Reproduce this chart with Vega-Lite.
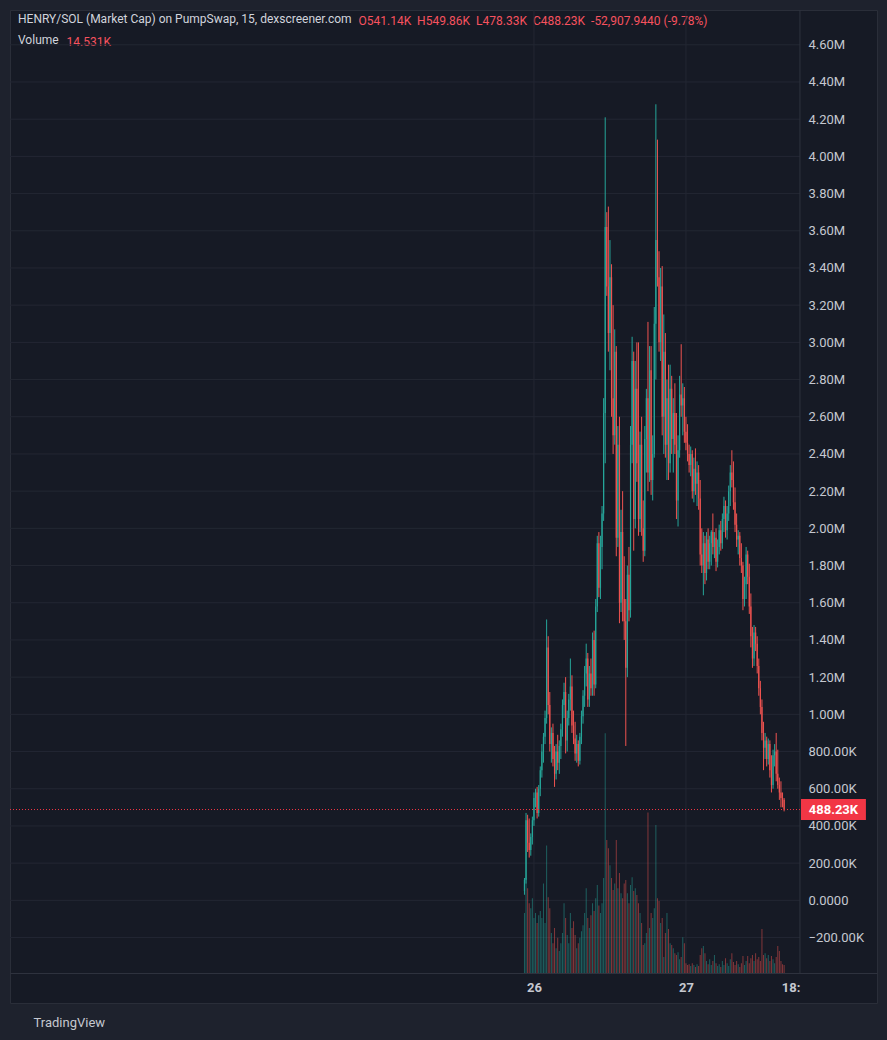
{
  "$schema": "https://vega.github.io/schema/vega-lite/v6.json",
  "description": "HENRY/SOL market cap, 15 minute candles with volume, dexscreener style",
  "width": 867,
  "height": 993,
  "autosize": "none",
  "padding": {"left": 10, "top": 10, "right": 10, "bottom": 37},
  "background": "#1e222d",
  "config": {
    "font": "Roboto",
    "view": {"fill": "#161a25", "stroke": "#2a2e39", "strokeWidth": 1},
    "scale": {"continuousPadding": 0},
    "axis": {"grid": false, "ticks": false, "domain": false, "labelFont": "Roboto", "titleFont": "Roboto"}
  },
  "title": {
    "text": "HENRY/SOL (Market Cap) on PumpSwap, 15, dexscreener.com",
    "subtitle": "Volume",
    "orient": "top",
    "anchor": "start",
    "frame": "group",
    "offset": -37,
    "dx": 8,
    "font": "Roboto",
    "fontSize": 12,
    "fontWeight": "normal",
    "color": "#d1d4dc",
    "subtitleFont": "Roboto",
    "subtitleFontSize": 12,
    "subtitleColor": "#d1d4dc",
    "subtitlePadding": 9
  },
  "datasets": {
    "bars": [
      {"t":"2025-06-25T22:30","o":50000,"h":120000,"l":30000,"c":110000,"v":109000},
      {"t":"2025-06-25T22:45","o":110000,"h":470000,"l":90000,"c":430000,"v":173000},
      {"t":"2025-06-25T23:00","o":430000,"h":460000,"l":260000,"c":310000,"v":154000},
      {"t":"2025-06-25T23:15","o":310000,"h":440000,"l":230000,"c":270000,"v":127000},
      {"t":"2025-06-25T23:30","o":270000,"h":360000,"l":240000,"c":340000,"v":118000},
      {"t":"2025-06-25T23:45","o":340000,"h":450000,"l":300000,"c":430000,"v":136000},
      {"t":"2025-06-26T00:00","o":430000,"h":580000,"l":400000,"c":550000,"v":100000},
      {"t":"2025-06-26T00:15","o":550000,"h":600000,"l":500000,"c":580000,"v":109000},
      {"t":"2025-06-26T00:30","o":580000,"h":610000,"l":440000,"c":470000,"v":91000},
      {"t":"2025-06-26T00:45","o":470000,"h":620000,"l":450000,"c":600000,"v":105000},
      {"t":"2025-06-26T01:00","o":600000,"h":720000,"l":560000,"c":700000,"v":113000},
      {"t":"2025-06-26T01:15","o":700000,"h":840000,"l":660000,"c":800000,"v":100000},
      {"t":"2025-06-26T01:30","o":800000,"h":900000,"l":740000,"c":880000,"v":163000},
      {"t":"2025-06-26T01:45","o":880000,"h":1020000,"l":840000,"c":980000,"v":91000},
      {"t":"2025-06-26T02:00","o":980000,"h":1510000,"l":950000,"c":1360000,"v":232000},
      {"t":"2025-06-26T02:15","o":1360000,"h":1420000,"l":1000000,"c":1050000,"v":138000},
      {"t":"2025-06-26T02:30","o":1050000,"h":1120000,"l":800000,"c":840000,"v":118000},
      {"t":"2025-06-26T02:45","o":840000,"h":930000,"l":740000,"c":900000,"v":73000},
      {"t":"2025-06-26T03:00","o":900000,"h":950000,"l":720000,"c":760000,"v":54000},
      {"t":"2025-06-26T03:15","o":760000,"h":830000,"l":610000,"c":680000,"v":82000},
      {"t":"2025-06-26T03:30","o":680000,"h":840000,"l":650000,"c":800000,"v":45000},
      {"t":"2025-06-26T03:45","o":800000,"h":890000,"l":700000,"c":740000,"v":64000},
      {"t":"2025-06-26T04:00","o":740000,"h":860000,"l":680000,"c":830000,"v":40000},
      {"t":"2025-06-26T04:15","o":830000,"h":950000,"l":760000,"c":920000,"v":54000},
      {"t":"2025-06-26T04:30","o":920000,"h":1080000,"l":880000,"c":1050000,"v":73000},
      {"t":"2025-06-26T04:45","o":1050000,"h":1170000,"l":980000,"c":1120000,"v":127000},
      {"t":"2025-06-26T05:00","o":1120000,"h":1200000,"l":790000,"c":860000,"v":100000},
      {"t":"2025-06-26T05:15","o":860000,"h":1020000,"l":800000,"c":980000,"v":69000},
      {"t":"2025-06-26T05:30","o":980000,"h":1110000,"l":940000,"c":1080000,"v":54000},
      {"t":"2025-06-26T05:45","o":1080000,"h":1300000,"l":1020000,"c":1150000,"v":109000},
      {"t":"2025-06-26T06:00","o":1150000,"h":1210000,"l":900000,"c":940000,"v":82000},
      {"t":"2025-06-26T06:15","o":940000,"h":1020000,"l":840000,"c":870000,"v":94000},
      {"t":"2025-06-26T06:30","o":870000,"h":960000,"l":750000,"c":790000,"v":69000},
      {"t":"2025-06-26T06:45","o":790000,"h":890000,"l":740000,"c":840000,"v":45000},
      {"t":"2025-06-26T07:00","o":840000,"h":860000,"l":720000,"c":750000,"v":54000},
      {"t":"2025-06-26T07:15","o":750000,"h":900000,"l":730000,"c":880000,"v":64000},
      {"t":"2025-06-26T07:30","o":880000,"h":1020000,"l":840000,"c":990000,"v":76000},
      {"t":"2025-06-26T07:45","o":990000,"h":1130000,"l":950000,"c":1100000,"v":87000},
      {"t":"2025-06-26T08:00","o":1100000,"h":1260000,"l":1040000,"c":1220000,"v":109000},
      {"t":"2025-06-26T08:15","o":1220000,"h":1380000,"l":1150000,"c":1300000,"v":154000},
      {"t":"2025-06-26T08:30","o":1300000,"h":1330000,"l":1040000,"c":1080000,"v":100000},
      {"t":"2025-06-26T08:45","o":1080000,"h":1260000,"l":1040000,"c":1220000,"v":82000},
      {"t":"2025-06-26T09:00","o":1220000,"h":1300000,"l":1100000,"c":1140000,"v":105000},
      {"t":"2025-06-26T09:15","o":1140000,"h":1440000,"l":1100000,"c":1400000,"v":127000},
      {"t":"2025-06-26T09:30","o":1400000,"h":1450000,"l":1100000,"c":1160000,"v":113000},
      {"t":"2025-06-26T09:45","o":1160000,"h":1620000,"l":1140000,"c":1580000,"v":136000},
      {"t":"2025-06-26T10:00","o":1580000,"h":1960000,"l":1550000,"c":1920000,"v":160000},
      {"t":"2025-06-26T10:15","o":1920000,"h":1980000,"l":1630000,"c":1680000,"v":123000},
      {"t":"2025-06-26T10:30","o":1680000,"h":1960000,"l":1620000,"c":1900000,"v":109000},
      {"t":"2025-06-26T10:45","o":1900000,"h":2120000,"l":1780000,"c":2080000,"v":127000},
      {"t":"2025-06-26T11:00","o":2080000,"h":2700000,"l":2040000,"c":2620000,"v":173000},
      {"t":"2025-06-26T11:15","o":2620000,"h":4210000,"l":2350000,"c":3620000,"v":436000},
      {"t":"2025-06-26T11:30","o":3620000,"h":3700000,"l":3250000,"c":3300000,"v":242000},
      {"t":"2025-06-26T11:45","o":3300000,"h":3730000,"l":2950000,"c":3050000,"v":227000},
      {"t":"2025-06-26T12:00","o":3050000,"h":3550000,"l":2850000,"c":3350000,"v":196000},
      {"t":"2025-06-26T12:15","o":3350000,"h":3420000,"l":2600000,"c":2700000,"v":173000},
      {"t":"2025-06-26T12:30","o":2700000,"h":3200000,"l":2400000,"c":2500000,"v":151000},
      {"t":"2025-06-26T12:45","o":2500000,"h":3070000,"l":2450000,"c":2950000,"v":163000},
      {"t":"2025-06-26T13:00","o":2950000,"h":2980000,"l":1850000,"c":1950000,"v":242000},
      {"t":"2025-06-26T13:15","o":1950000,"h":2550000,"l":1900000,"c":2450000,"v":154000},
      {"t":"2025-06-26T13:30","o":2450000,"h":2600000,"l":1490000,"c":1600000,"v":182000},
      {"t":"2025-06-26T13:45","o":1600000,"h":2100000,"l":1550000,"c":1980000,"v":145000},
      {"t":"2025-06-26T14:00","o":1980000,"h":2200000,"l":1500000,"c":1620000,"v":136000},
      {"t":"2025-06-26T14:15","o":1620000,"h":1850000,"l":1400000,"c":1500000,"v":163000},
      {"t":"2025-06-26T14:30","o":1500000,"h":1620000,"l":830000,"c":1250000,"v":169000},
      {"t":"2025-06-26T14:45","o":1250000,"h":1800000,"l":1200000,"c":1750000,"v":145000},
      {"t":"2025-06-26T15:00","o":1750000,"h":1900000,"l":1500000,"c":1560000,"v":127000},
      {"t":"2025-06-26T15:15","o":1560000,"h":2550000,"l":1520000,"c":2450000,"v":160000},
      {"t":"2025-06-26T15:30","o":2450000,"h":3030000,"l":2350000,"c":2900000,"v":174000},
      {"t":"2025-06-26T15:45","o":2900000,"h":2950000,"l":1880000,"c":2050000,"v":149000},
      {"t":"2025-06-26T16:00","o":2050000,"h":2900000,"l":2000000,"c":2750000,"v":154000},
      {"t":"2025-06-26T16:15","o":2750000,"h":3000000,"l":2250000,"c":2350000,"v":142000},
      {"t":"2025-06-26T16:30","o":2350000,"h":3000000,"l":1960000,"c":2050000,"v":127000},
      {"t":"2025-06-26T16:45","o":2050000,"h":2520000,"l":1980000,"c":2450000,"v":109000},
      {"t":"2025-06-26T17:00","o":2450000,"h":2600000,"l":1960000,"c":2000000,"v":91000},
      {"t":"2025-06-26T17:15","o":2000000,"h":2150000,"l":1820000,"c":1880000,"v":51000},
      {"t":"2025-06-26T17:30","o":1880000,"h":2550000,"l":1850000,"c":2480000,"v":54000},
      {"t":"2025-06-26T17:45","o":2480000,"h":2750000,"l":2300000,"c":2700000,"v":73000},
      {"t":"2025-06-26T18:00","o":2700000,"h":3110000,"l":2200000,"c":2300000,"v":292000},
      {"t":"2025-06-26T18:15","o":2300000,"h":2980000,"l":2250000,"c":2850000,"v":82000},
      {"t":"2025-06-26T18:30","o":2850000,"h":2980000,"l":2180000,"c":2260000,"v":109000},
      {"t":"2025-06-26T18:45","o":2260000,"h":2500000,"l":2150000,"c":2400000,"v":100000},
      {"t":"2025-06-26T19:00","o":2400000,"h":3190000,"l":2380000,"c":3100000,"v":118000},
      {"t":"2025-06-26T19:15","o":3100000,"h":4280000,"l":2800000,"c":3550000,"v":269000},
      {"t":"2025-06-26T19:30","o":3550000,"h":4090000,"l":3300000,"c":3350000,"v":136000},
      {"t":"2025-06-26T19:45","o":3350000,"h":3490000,"l":2950000,"c":3000000,"v":131000},
      {"t":"2025-06-26T20:00","o":3000000,"h":3400000,"l":2900000,"c":3300000,"v":91000},
      {"t":"2025-06-26T20:15","o":3300000,"h":3410000,"l":2500000,"c":2600000,"v":100000},
      {"t":"2025-06-26T20:30","o":2600000,"h":3150000,"l":2400000,"c":2950000,"v":29000},
      {"t":"2025-06-26T20:45","o":2950000,"h":3050000,"l":2380000,"c":2450000,"v":73000},
      {"t":"2025-06-26T21:00","o":2450000,"h":2800000,"l":2260000,"c":2700000,"v":109000},
      {"t":"2025-06-26T21:15","o":2700000,"h":2880000,"l":2260000,"c":2350000,"v":80000},
      {"t":"2025-06-26T21:30","o":2350000,"h":2880000,"l":2300000,"c":2750000,"v":54000},
      {"t":"2025-06-26T21:45","o":2750000,"h":2820000,"l":2400000,"c":2480000,"v":51000},
      {"t":"2025-06-26T22:00","o":2480000,"h":2700000,"l":2300000,"c":2620000,"v":45000},
      {"t":"2025-06-26T22:15","o":2620000,"h":2780000,"l":2400000,"c":2450000,"v":36000},
      {"t":"2025-06-26T22:30","o":2450000,"h":2620000,"l":2050000,"c":2150000,"v":33000},
      {"t":"2025-06-26T22:45","o":2150000,"h":2500000,"l":2010000,"c":2420000,"v":38000},
      {"t":"2025-06-26T23:00","o":2420000,"h":2820000,"l":2380000,"c":2720000,"v":25000},
      {"t":"2025-06-26T23:15","o":2720000,"h":2990000,"l":2600000,"c":2660000,"v":29000},
      {"t":"2025-06-26T23:30","o":2660000,"h":2780000,"l":2500000,"c":2700000,"v":65000},
      {"t":"2025-06-26T23:45","o":2700000,"h":2760000,"l":2460000,"c":2520000,"v":54000},
      {"t":"2025-06-27T00:00","o":2520000,"h":2600000,"l":2420000,"c":2460000,"v":18000},
      {"t":"2025-06-27T00:15","o":2460000,"h":2560000,"l":2360000,"c":2400000,"v":14500},
      {"t":"2025-06-27T00:30","o":2400000,"h":2450000,"l":2300000,"c":2340000,"v":16000},
      {"t":"2025-06-27T00:45","o":2340000,"h":2440000,"l":2280000,"c":2400000,"v":13000},
      {"t":"2025-06-27T01:00","o":2400000,"h":2420000,"l":2160000,"c":2200000,"v":18000},
      {"t":"2025-06-27T01:15","o":2200000,"h":2380000,"l":2140000,"c":2320000,"v":14500},
      {"t":"2025-06-27T01:30","o":2320000,"h":2430000,"l":2180000,"c":2240000,"v":11000},
      {"t":"2025-06-27T01:45","o":2240000,"h":2360000,"l":2120000,"c":2300000,"v":16000},
      {"t":"2025-06-27T02:00","o":2300000,"h":2340000,"l":2100000,"c":2160000,"v":13000},
      {"t":"2025-06-27T02:15","o":2160000,"h":2260000,"l":1800000,"c":1860000,"v":33000},
      {"t":"2025-06-27T02:30","o":1860000,"h":2000000,"l":1760000,"c":1800000,"v":45000},
      {"t":"2025-06-27T02:45","o":1800000,"h":1980000,"l":1640000,"c":1920000,"v":49000},
      {"t":"2025-06-27T03:00","o":1920000,"h":1960000,"l":1700000,"c":1760000,"v":36000},
      {"t":"2025-06-27T03:15","o":1760000,"h":1980000,"l":1720000,"c":1940000,"v":22000},
      {"t":"2025-06-27T03:30","o":1940000,"h":2000000,"l":1780000,"c":1820000,"v":16000},
      {"t":"2025-06-27T03:45","o":1820000,"h":1960000,"l":1780000,"c":1920000,"v":25000},
      {"t":"2025-06-27T04:00","o":1920000,"h":1990000,"l":1800000,"c":1980000,"v":14500},
      {"t":"2025-06-27T04:15","o":1980000,"h":2080000,"l":1860000,"c":1900000,"v":22000},
      {"t":"2025-06-27T04:30","o":1900000,"h":1980000,"l":1840000,"c":1950000,"v":33000},
      {"t":"2025-06-27T04:45","o":1950000,"h":2000000,"l":1770000,"c":1820000,"v":18000},
      {"t":"2025-06-27T05:00","o":1820000,"h":1940000,"l":1790000,"c":1900000,"v":13000},
      {"t":"2025-06-27T05:15","o":1900000,"h":2020000,"l":1860000,"c":1990000,"v":16000},
      {"t":"2025-06-27T05:30","o":1990000,"h":2040000,"l":1880000,"c":1920000,"v":11000},
      {"t":"2025-06-27T05:45","o":1920000,"h":2080000,"l":1890000,"c":2050000,"v":22000},
      {"t":"2025-06-27T06:00","o":2050000,"h":2170000,"l":1980000,"c":2120000,"v":14500},
      {"t":"2025-06-27T06:15","o":2120000,"h":2150000,"l":1950000,"c":1990000,"v":27000},
      {"t":"2025-06-27T06:30","o":1990000,"h":2120000,"l":1940000,"c":2080000,"v":18000},
      {"t":"2025-06-27T06:45","o":2080000,"h":2230000,"l":2040000,"c":2200000,"v":13000},
      {"t":"2025-06-27T07:00","o":2200000,"h":2340000,"l":2120000,"c":2300000,"v":25000},
      {"t":"2025-06-27T07:15","o":2300000,"h":2420000,"l":2220000,"c":2260000,"v":36000},
      {"t":"2025-06-27T07:30","o":2260000,"h":2360000,"l":2100000,"c":2140000,"v":20000},
      {"t":"2025-06-27T07:45","o":2140000,"h":2220000,"l":1980000,"c":2020000,"v":14500},
      {"t":"2025-06-27T08:00","o":2020000,"h":2080000,"l":1900000,"c":1940000,"v":22000},
      {"t":"2025-06-27T08:15","o":1940000,"h":1990000,"l":1860000,"c":1960000,"v":16000},
      {"t":"2025-06-27T08:30","o":1960000,"h":1980000,"l":1800000,"c":1840000,"v":11000},
      {"t":"2025-06-27T08:45","o":1840000,"h":1920000,"l":1760000,"c":1800000,"v":18000},
      {"t":"2025-06-27T09:00","o":1800000,"h":1820000,"l":1560000,"c":1620000,"v":31000},
      {"t":"2025-06-27T09:15","o":1620000,"h":1740000,"l":1580000,"c":1700000,"v":14500},
      {"t":"2025-06-27T09:30","o":1700000,"h":1900000,"l":1620000,"c":1860000,"v":22000},
      {"t":"2025-06-27T09:45","o":1860000,"h":1880000,"l":1700000,"c":1740000,"v":31000},
      {"t":"2025-06-27T10:00","o":1740000,"h":1810000,"l":1540000,"c":1580000,"v":18000},
      {"t":"2025-06-27T10:15","o":1580000,"h":1650000,"l":1360000,"c":1420000,"v":27000},
      {"t":"2025-06-27T10:30","o":1420000,"h":1470000,"l":1250000,"c":1300000,"v":33000},
      {"t":"2025-06-27T10:45","o":1300000,"h":1480000,"l":1260000,"c":1440000,"v":22000},
      {"t":"2025-06-27T11:00","o":1440000,"h":1470000,"l":1340000,"c":1380000,"v":36000},
      {"t":"2025-06-27T11:15","o":1380000,"h":1420000,"l":1220000,"c":1260000,"v":25000},
      {"t":"2025-06-27T11:30","o":1260000,"h":1300000,"l":1100000,"c":1140000,"v":29000},
      {"t":"2025-06-27T11:45","o":1140000,"h":1180000,"l":1000000,"c":1040000,"v":22000},
      {"t":"2025-06-27T12:00","o":1040000,"h":1080000,"l":860000,"c":900000,"v":80000},
      {"t":"2025-06-27T12:15","o":900000,"h":960000,"l":700000,"c":820000,"v":33000},
      {"t":"2025-06-27T12:30","o":820000,"h":900000,"l":760000,"c":860000,"v":36000},
      {"t":"2025-06-27T12:45","o":860000,"h":880000,"l":720000,"c":760000,"v":27000},
      {"t":"2025-06-27T13:00","o":760000,"h":870000,"l":730000,"c":840000,"v":33000},
      {"t":"2025-06-27T13:15","o":840000,"h":860000,"l":660000,"c":700000,"v":22000},
      {"t":"2025-06-27T13:30","o":700000,"h":780000,"l":580000,"c":620000,"v":31000},
      {"t":"2025-06-27T13:45","o":620000,"h":810000,"l":600000,"c":780000,"v":25000},
      {"t":"2025-06-27T14:00","o":780000,"h":840000,"l":720000,"c":800000,"v":18000},
      {"t":"2025-06-27T14:15","o":800000,"h":900000,"l":640000,"c":680000,"v":29000},
      {"t":"2025-06-27T14:30","o":680000,"h":810000,"l":600000,"c":620000,"v":49000},
      {"t":"2025-06-27T14:45","o":620000,"h":660000,"l":540000,"c":580000,"v":40000},
      {"t":"2025-06-27T15:00","o":580000,"h":640000,"l":500000,"c":550000,"v":22000},
      {"t":"2025-06-27T15:15","o":550000,"h":580000,"l":500000,"c":541140,"v":16000},
      {"t":"2025-06-27T15:30","o":541140,"h":549860,"l":478330,"c":488230,"v":14531}
    ],
    "grid": [
      {"g": -200000}, {"g": 0}, {"g": 200000}, {"g": 400000}, {"g": 600000},
      {"g": 800000}, {"g": 1000000}, {"g": 1200000}, {"g": 1400000}, {"g": 1600000},
      {"g": 1800000}, {"g": 2000000}, {"g": 2200000}, {"g": 2400000}, {"g": 2600000},
      {"g": 2800000}, {"g": 3000000}, {"g": 3200000}, {"g": 3400000}, {"g": 3600000},
      {"g": 3800000}, {"g": 4000000}, {"g": 4200000}, {"g": 4400000}, {"g": 4600000}
    ],
    "days": [{"d": "2025-06-26T00:00"}, {"d": "2025-06-27T00:00"}],
    "last": [{"p": 488230, "label": "488.23K"}]
  },
  "layer": [
    {
      "layer": [
        {
          "data": {"name": "grid"},
          "mark": {"type": "rule", "color": "#232733", "strokeWidth": 1},
          "encoding": {
            "y": {"field": "g", "type": "quantitative", "scale": {"domain": [-552000, 4787000], "nice": false, "zero": false, "padding": 0}, "axis": null},
            "x": {"datum": {"year": 2025, "month": 6, "date": 22, "hours": 13, "minutes": 16}, "type": "temporal", "scale": {"domain": [{"year": 2025, "month": 6, "date": 22, "hours": 13, "minutes": 16}, {"year": 2025, "month": 6, "date": 28, "hours": 6, "minutes": 10}], "nice": false, "padding": 0}},
            "x2": {"datum": {"year": 2025, "month": 6, "date": 27, "hours": 18}}
          }
        },
        {
          "data": {"name": "days"},
          "mark": {"type": "rule", "color": "#232733", "strokeWidth": 1},
          "encoding": {
            "x": {"field": "d", "type": "temporal"},
            "y": {"datum": -391000, "type": "quantitative"},
            "y2": {"datum": 4787000}
          }
        },
        {
          "data": {"name": "last"},
          "mark": {"type": "rule", "color": "#2e323e", "strokeWidth": 1},
          "encoding": {
            "x": {"datum": {"year": 2025, "month": 6, "date": 27, "hours": 18}, "type": "temporal"},
            "y": {"datum": -391000, "type": "quantitative"},
            "y2": {"datum": 4787000}
          }
        }
      ]
    },
    {
      "data": {"name": "bars"},
      "mark": {"type": "bar", "size": 1, "opacity": 0.5},
      "encoding": {
        "x": {"field": "t", "type": "temporal", "scale": {"domain": [{"year": 2025, "month": 6, "date": 22, "hours": 13, "minutes": 16}, {"year": 2025, "month": 6, "date": 28, "hours": 6, "minutes": 10}], "nice": false, "padding": 0}},
        "y": {
          "field": "v", "type": "quantitative",
          "scale": {"domain": [-54500, 1751000], "nice": false, "zero": false, "padding": 0},
          "axis": {
            "orient": "left", "labels": false, "ticks": false, "domain": false, "grid": false,
            "title": "14.531K", "titleX": 56, "titleY": 31, "titleAngle": 0,
            "titleAlign": "left", "titleBaseline": "middle",
            "titleColor": "#f7525f", "titleFontSize": 12, "titleFontWeight": "normal"
          }
        },
        "y2": {"datum": 0},
        "color": {"condition": {"test": "datum.c >= datum.o", "value": "#26a69a"}, "value": "#ef5350"}
      }
    },
    {
      "layer": [
        {
          "data": {"name": "bars"},
          "mark": {"type": "rule", "strokeWidth": 1},
          "encoding": {
            "x": {
              "field": "t", "type": "temporal",
              "scale": {"domain": [{"year": 2025, "month": 6, "date": 22, "hours": 13, "minutes": 16}, {"year": 2025, "month": 6, "date": 28, "hours": 6, "minutes": 10}], "nice": false, "padding": 0},
              "axis": {
                "orient": "bottom", "offset": -30,
                "values": [
                  {"year": 2025, "month": 6, "date": 26},
                  {"year": 2025, "month": 6, "date": 27},
                  {"year": 2025, "month": 6, "date": 27, "hours": 18}
                ],
                "labelExpr": "hours(datum.value) == 18 ? '18:' : timeFormat(datum.value, '%d')",
                "labelAlign": {"condition": {"test": "hours(datum.value) == 18", "value": "right"}, "value": "center"},
                "labelFontWeight": "bold", "labelFontSize": 13, "labelColor": "#c5c8d0",
                "labelPadding": 8, "labelFlush": false, "labelOverlap": false,
                "domain": true, "domainColor": "#2e323e", "ticks": false, "grid": false,
                "title": "TradingView", "titleX": 23, "titleY": 49, "titleAngle": 0,
                "titleAlign": "left", "titleBaseline": "middle",
                "titleColor": "#c5c8d0", "titleFontSize": 13, "titleFontWeight": "normal"
              }
            },
            "y": {
              "field": "l", "type": "quantitative",
              "scale": {"domain": [-552000, 4787000], "nice": false, "zero": false, "padding": 0},
              "axis": {
                "orient": "right", "offset": -77,
                "values": [-200000, 0, 200000, 400000, 600000, 800000, 1000000, 1200000, 1400000, 1600000, 1800000, 2000000, 2200000, 2400000, 2600000, 2800000, 3000000, 3200000, 3400000, 3600000, 3800000, 4000000, 4200000, 4400000, 4600000],
                "labelExpr": "datum.value == 0 ? '0.0000' : abs(datum.value) >= 1000000 ? format(datum.value / 1000000, '.2f') + 'M' : format(datum.value / 1000, '.2f') + 'K'",
                "labelFontSize": 13, "labelColor": "#c5c8d0", "labelPadding": 8,
                "labelAlign": "left", "labelBaseline": "middle", "labelOverlap": false, "labelFlush": false,
                "domain": false, "ticks": false, "grid": false,
                "title": "O541.14K\u00a0\u00a0H549.86K\u00a0\u00a0L478.33K\u00a0\u00a0C488.23K\u00a0\u00a0-52,907.9440 (-9.78%)",
                "titleX": -442, "titleY": 10, "titleAngle": 0,
                "titleAlign": "left", "titleBaseline": "middle",
                "titleColor": "#f7525f", "titleFontSize": 12, "titleFontWeight": "normal"
              }
            },
            "y2": {"field": "h"},
            "color": {"condition": {"test": "datum.c >= datum.o", "value": "#26a69a"}, "value": "#ef5350"}
          }
        },
        {
          "data": {"name": "bars"},
          "mark": {"type": "bar", "size": 1.2},
          "encoding": {
            "x": {"field": "t", "type": "temporal"},
            "y": {"field": "o", "type": "quantitative", "scale": {"domain": [-552000, 4787000], "nice": false, "zero": false, "padding": 0}},
            "y2": {"field": "c"},
            "color": {"condition": {"test": "datum.c >= datum.o", "value": "#26a69a"}, "value": "#ef5350"}
          }
        },
        {
          "data": {"name": "last"},
          "mark": {"type": "rule", "color": "#f23645", "strokeWidth": 1, "strokeDash": [1, 2]},
          "encoding": {
            "y": {"field": "p", "type": "quantitative"},
            "x": {"datum": {"year": 2025, "month": 6, "date": 22, "hours": 13, "minutes": 16}, "type": "temporal"},
            "x2": {"datum": {"year": 2025, "month": 6, "date": 27, "hours": 18}}
          }
        },
        {
          "data": {"name": "last"},
          "mark": {"type": "bar", "orient": "horizontal", "size": 21, "color": "#f23645"},
          "encoding": {
            "y": {"field": "p", "type": "quantitative"},
            "x": {"datum": {"year": 2025, "month": 6, "date": 27, "hours": 18, "minutes": 10}, "type": "temporal"},
            "x2": {"datum": {"year": 2025, "month": 6, "date": 28, "hours": 4, "minutes": 25}}
          }
        },
        {
          "data": {"name": "last"},
          "mark": {"type": "text", "color": "#ffffff", "fontSize": 13, "fontWeight": "bold", "align": "center", "baseline": "middle"},
          "encoding": {
            "y": {"field": "p", "type": "quantitative"},
            "x": {"datum": {"year": 2025, "month": 6, "date": 27, "hours": 23, "minutes": 17}, "type": "temporal"},
            "text": {"field": "label"}
          }
        }
      ]
    }
  ],
  "resolve": {"scale": {"y": "independent"}}
}
